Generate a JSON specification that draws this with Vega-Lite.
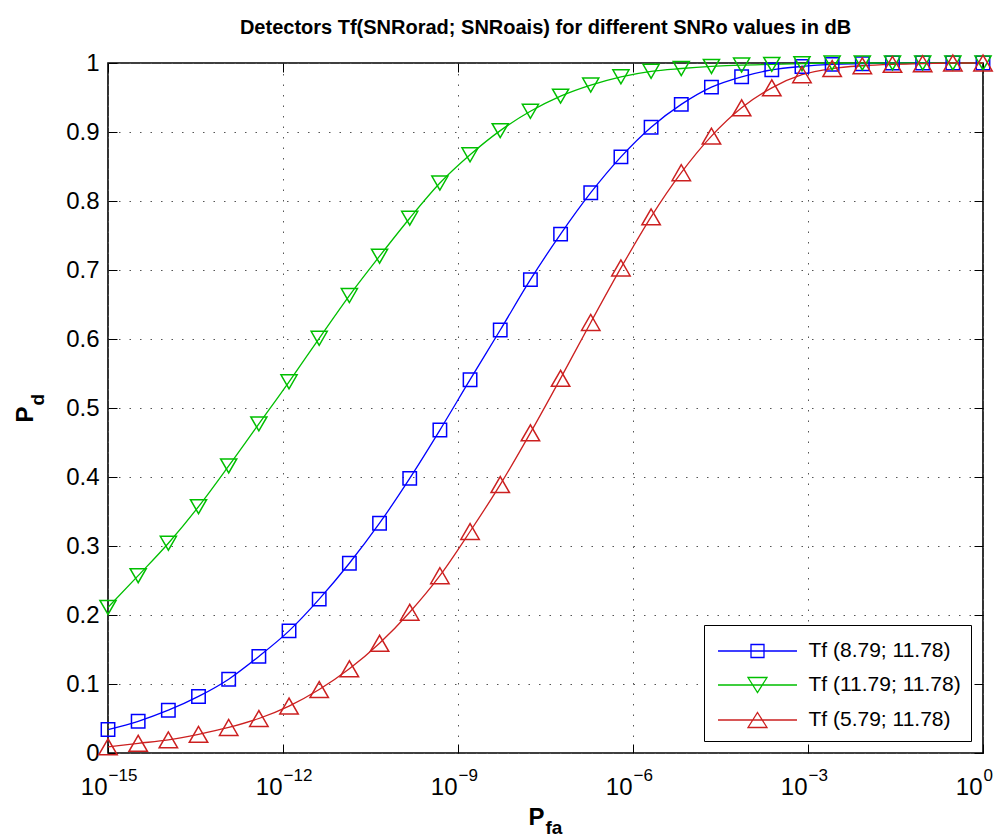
{
  "$schema": "https://vega.github.io/schema/vega-lite/v6.json",
  "width": 875,
  "height": 690,
  "autosize": {"type": "none"},
  "padding": {"left": 108, "top": 63, "right": 20, "bottom": 86},
  "background": "white",
  "title": {"text": "Detectors Tf(SNRorad; SNRoais) for different SNRo values in dB", "fontSize": 20, "fontWeight": "bold", "font": "Liberation Sans", "color": "black", "offset": 13, "anchor": "middle"},
  "config": {"font": "Liberation Sans", "view": {"stroke": "black", "strokeWidth": 1.6}},
  "data": {"values": [
    {"pfa": 1e-15, "T1": 0.034, "T2": 0.211, "T3": 0.009},
    {"pfa": 3.29e-15, "T1": 0.046, "T2": 0.257, "T3": 0.014},
    {"pfa": 1.083e-14, "T1": 0.062, "T2": 0.304, "T3": 0.019},
    {"pfa": 3.562e-14, "T1": 0.082, "T2": 0.357, "T3": 0.027},
    {"pfa": 1.172e-13, "T1": 0.107, "T2": 0.416, "T3": 0.037},
    {"pfa": 3.857e-13, "T1": 0.140, "T2": 0.477, "T3": 0.050},
    {"pfa": 1.269e-12, "T1": 0.177, "T2": 0.538, "T3": 0.068},
    {"pfa": 4.175e-12, "T1": 0.223, "T2": 0.601, "T3": 0.092},
    {"pfa": 1.374e-11, "T1": 0.275, "T2": 0.663, "T3": 0.122},
    {"pfa": 4.52e-11, "T1": 0.333, "T2": 0.720, "T3": 0.159},
    {"pfa": 1.487e-10, "T1": 0.398, "T2": 0.775, "T3": 0.204},
    {"pfa": 4.893e-10, "T1": 0.468, "T2": 0.826, "T3": 0.257},
    {"pfa": 1.61e-9, "T1": 0.541, "T2": 0.867, "T3": 0.321},
    {"pfa": 5.298e-9, "T1": 0.613, "T2": 0.902, "T3": 0.389},
    {"pfa": 1.743e-8, "T1": 0.686, "T2": 0.930, "T3": 0.464},
    {"pfa": 5.736e-8, "T1": 0.752, "T2": 0.952, "T3": 0.543},
    {"pfa": 1.887e-7, "T1": 0.812, "T2": 0.968, "T3": 0.624},
    {"pfa": 6.21e-7, "T1": 0.864, "T2": 0.980, "T3": 0.703},
    {"pfa": 2.043e-6, "T1": 0.907, "T2": 0.988, "T3": 0.777},
    {"pfa": 6.723e-6, "T1": 0.940, "T2": 0.992, "T3": 0.841},
    {"pfa": 2.212e-5, "T1": 0.965, "T2": 0.995, "T3": 0.894},
    {"pfa": 7.279e-5, "T1": 0.980, "T2": 0.997, "T3": 0.935},
    {"pfa": 2.395e-4, "T1": 0.990, "T2": 0.998, "T3": 0.964},
    {"pfa": 7.88e-4, "T1": 0.995, "T2": 0.999, "T3": 0.983},
    {"pfa": 2.593e-3, "T1": 0.998, "T2": 1, "T3": 0.992},
    {"pfa": 8.531e-3, "T1": 0.999, "T2": 1, "T3": 0.996},
    {"pfa": 2.807e-2, "T1": 1, "T2": 1, "T3": 0.998},
    {"pfa": 9.237e-2, "T1": 1, "T2": 1, "T3": 0.999},
    {"pfa": 0.3039, "T1": 1, "T2": 1, "T3": 1},
    {"pfa": 1, "T1": 1, "T2": 1, "T3": 1}
  ]},
  "transform": [{"fold": ["T1", "T2", "T3"], "as": ["series", "pd"]}],
  "layer": [
    {
      "mark": {"type": "line", "strokeWidth": 1.3, "interpolate": "monotone"},
      "encoding": {
        "x": {"field": "pfa", "type": "quantitative", "scale": {"type": "log", "domain": [1e-15, 1], "nice": false},
          "axis": {"orient": "bottom", "values": [1e-15, 1e-12, 1e-9, 1e-6, 1e-3, 1],
            "labelExpr": "'10'", "labelAlign": "right", "labelOffset": -1,
            "labelFontSize": 24, "labelColor": "black", "labelFont": "Liberation Sans", "labelPadding": 31, "labelFlush": false, "labelOverlap": false,
            "tickSize": -9, "tickColor": "black", "tickWidth": 1, "domain": false,
            "grid": true, "gridColor": "#555555", "gridDash": [1.5, 9], "gridWidth": 1,
            "title": "P", "titleFontSize": 24, "titleFontWeight": "bold", "titleColor": "black", "titleFont": "Liberation Sans",
            "titleBaseline": "alphabetic", "titleY": 71, "titleX": 420, "titleAlign": "left"}},
        "y": {"field": "pd", "type": "quantitative", "scale": {"domain": [0, 1], "nice": false, "zero": false},
          "axis": {"orient": "left", "values": [0, 0.1, 0.2, 0.3, 0.4, 0.5, 0.6, 0.7, 0.8, 0.9, 1], "format": "~g",
            "labelFontSize": 24, "labelColor": "black", "labelFont": "Liberation Sans", "labelPadding": 18, "labelFlush": false, "labelOverlap": false,
            "tickSize": -9, "tickColor": "black", "tickWidth": 1, "domain": false,
            "grid": true, "gridColor": "#555555", "gridDash": [1.5, 9], "gridWidth": 1,
            "title": "P", "titleFontSize": 24, "titleFontWeight": "bold", "titleColor": "black", "titleFont": "Liberation Sans",
            "titleAngle": 270, "titleBaseline": "alphabetic", "titleAlign": "left", "titleX": -76, "titleY": 359}},
        "color": {"field": "series", "type": "nominal", "scale": {"domain": ["T1", "T2", "T3"], "range": ["#0000FF", "#00BF00", "#CC2020"]}, "legend": null}
      }
    },
    {
      "mark": {"type": "point", "filled": false, "strokeWidth": 1.5, "opacity": 1},
      "encoding": {
        "x": {"field": "pfa", "type": "quantitative", "axis": null},
        "y": {"field": "pd", "type": "quantitative", "axis": null},
        "color": {"field": "series", "type": "nominal", "scale": {"domain": ["T1", "T2", "T3"], "range": ["#0000FF", "#00BF00", "#CC2020"]}, "legend": null},
        "shape": {"field": "series", "type": "nominal", "scale": {"domain": ["T1", "T2", "T3"], "range": ["square", "triangle-down", "triangle-up"]}, "legend": null},
        "size": {"field": "series", "type": "nominal", "scale": {"domain": ["T1", "T2", "T3"], "range": [180, 340, 340]}, "legend": null}
      }
    },
    {
      "transform": [{"filter": "false"}],
      "mark": {"type": "point", "filled": false, "strokeWidth": 1.3, "opacity": 1},
      "encoding": {
        "x": {"field": "pfa", "type": "quantitative",
          "axis": {"orient": "top", "values": [1e-15, 1e-12, 1e-9, 1e-6, 1e-3, 1], "labels": false, "tickSize": -9, "tickColor": "black", "tickWidth": 1, "domain": false, "grid": false, "title": null}},
        "y": {"field": "pd", "type": "quantitative",
          "axis": {"orient": "right", "values": [0, 0.1, 0.2, 0.3, 0.4, 0.5, 0.6, 0.7, 0.8, 0.9, 1], "labels": false, "tickSize": -9, "tickColor": "black", "tickWidth": 1, "domain": false, "grid": false, "title": null}},
        "color": {"field": "series", "type": "nominal", "scale": {"domain": ["T1", "T2", "T3"], "range": ["#0000FF", "#00BF00", "#CC2020"]},
          "legend": {"title": null, "orient": "bottom-right", "offset": 12, "padding": 10, "strokeColor": "black", "fillColor": "white",
            "symbolSize": 900, "symbolOffset": 27.5, "symbolStrokeWidth": 1.3, "labelFontSize": 21, "labelFont": "Liberation Sans", "labelColor": "black",
            "labelOffset": 35, "labelLimit": 400, "rowPadding": 8,
            "labelExpr": "datum.label == 'T1' ? 'Tf (8.79; 11.78)' : datum.label == 'T2' ? 'Tf (11.79; 11.78)' : 'Tf (5.79; 11.78)'"}},
        "shape": {"field": "series", "type": "nominal", "scale": {"domain": ["T1", "T2", "T3"], "range": ["M-2.633,0H2.633M-0.433,-0.433H0.433V0.433H-0.433Z", "M-2.633,0H2.633M-0.633,-0.5H0.633L0,0.5Z", "M-2.633,0H2.633M0,-0.5L0.633,0.5H-0.633Z"]},
          "legend": {"title": null, "orient": "bottom-right", "offset": 12, "padding": 10, "strokeColor": "black", "fillColor": "white",
            "symbolSize": 900, "symbolOffset": 27.5, "symbolStrokeWidth": 1.3, "labelFontSize": 21, "labelFont": "Liberation Sans", "labelColor": "black",
            "labelOffset": 35, "labelLimit": 400, "rowPadding": 8,
            "labelExpr": "datum.label == 'T1' ? 'Tf (8.79; 11.78)' : datum.label == 'T2' ? 'Tf (11.79; 11.78)' : 'Tf (5.79; 11.78)'"}}
      }
    },
    {
      "transform": [{"filter": "false"}],
      "mark": {"type": "point", "opacity": 0},
      "encoding": {
        "x": {"field": "pfa", "type": "quantitative",
          "axis": {"orient": "bottom", "values": [1e-15, 1e-12, 1e-9, 1e-6, 1e-3, 1],
            "labelExpr": "datum.value < 1e-13 ? '−15' : datum.value < 1e-10 ? '−12' : datum.value < 1e-7 ? '−9' : datum.value < 1e-4 ? '−6' : datum.value < 0.1 ? '−3' : '0'",
            "labelAlign": "left", "labelFontSize": 17, "labelColor": "black", "labelFont": "Liberation Sans", "labelPadding": 14, "labelFlush": false, "labelOverlap": false,
            "ticks": false, "domain": false, "grid": false,
            "title": "fa", "titleFontSize": 19, "titleFontWeight": "bold", "titleColor": "black", "titleFont": "Liberation Sans",
            "titleBaseline": "alphabetic", "titleY": 80, "titleX": 437, "titleAlign": "left"}},
        "y": {"field": "pd", "type": "quantitative",
          "axis": {"orient": "left", "labels": false, "ticks": false, "domain": false, "grid": false,
            "title": "d", "titleFontSize": 19, "titleFontWeight": "bold", "titleColor": "black", "titleFont": "Liberation Sans",
            "titleAngle": 270, "titleBaseline": "alphabetic", "titleAlign": "left", "titleX": -65, "titleY": 342}}
      }
    }
  ],
  "resolve": {"scale": {"color": "independent", "shape": "independent", "size": "independent"}, "axis": {"x": "independent", "y": "independent"}}
}
